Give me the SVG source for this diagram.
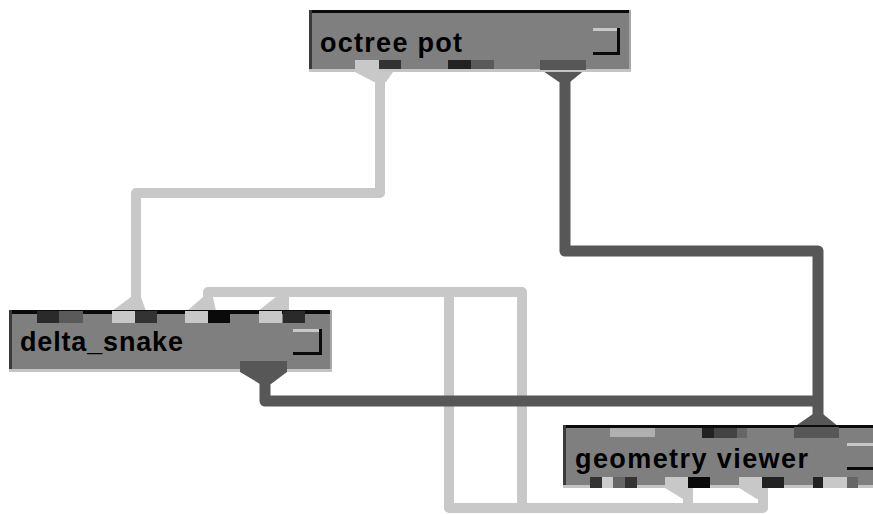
<svg xmlns="http://www.w3.org/2000/svg" width="873" height="514" viewBox="0 0 873 514">
<style>
.body{fill:#7f7f7f}
.topline{fill:#0a0a0a}
.leftline{fill:#3a3a3a}
.botline{fill:#c4c4c4}
.rightline{fill:#a8a8a8}
.lbl{font-family:"Liberation Sans",Arial,sans-serif;font-weight:bold;font-size:27px;fill:#000}
.lw{fill:none;stroke:#c8c8c8;stroke-width:10;stroke-linejoin:round}
.dw{fill:none;stroke:#575757;stroke-width:11;stroke-linejoin:round}
.lp{fill:#c8c8c8}
.dp{fill:#575757}
.btnface{fill:#7f7f7f}
.btnlight{fill:#c8c8c8}
.btndark{fill:#0a0a0a}
</style>
<rect width="873" height="514" fill="#ffffff"/>
<g id="connectors">
  <polyline class="lw" points="380,78 380,193 136,193 136,300"/>
  <polyline class="lw" points="208,300 208,292 522,292 522,508"/>
  <line class="lw" x1="283" y1="292" x2="283" y2="300"/>
  <polyline class="lw" points="449,292 449,508 763,508 763,496"/>
  <line class="lw" x1="688" y1="508" x2="688" y2="496"/>
  <polyline class="dw" points="565,78 565,251 818,251 818,418"/>
  <polyline class="dw" points="265,378 265,401 818,401"/>
  <!-- funnels -->
  <polygon class="lp" points="374,82 386,82 393,72 355,72"/>
  <polygon class="dp" points="559,82 570,82 586,69 540,69"/>
  <polygon class="lp" points="131,297 141,297 146,311 112,311"/>
  <polygon class="lp" points="203,297 213,297 216,311 187,311"/>
  <polygon class="lp" points="277,296 289,296 289,311 258,311"/>
  <polygon class="dp" points="260,384 271,384 287,372 240,372"/>
  <polygon class="dp" points="813,414 823,414 839,427 794,427"/>
  <polygon class="lp" points="683,499 693,499 693,488 665,488"/>
  <polygon class="lp" points="757,499 768,499 768,488 739,488"/>
</g>
<g id="node-octree-pot">
  <rect class="body" x="309" y="10" width="322" height="62"/>
  <rect class="topline" x="309" y="10" width="322" height="3"/>
  <rect class="leftline" x="309" y="10" width="3" height="62"/>
  <rect class="rightline" x="629" y="10" width="2" height="62"/>
  <rect class="botline" x="309" y="69" width="322" height="3"/>
  <rect class="lp" x="355" y="60" width="24" height="12"/>
  <rect fill="#333333" x="379" y="60" width="22" height="9"/>
  <rect fill="#222222" x="448" y="60" width="23" height="9"/>
  <rect fill="#5a5a5a" x="471" y="60" width="23" height="9"/>
  <rect class="dp" x="540" y="60" width="46" height="10"/>
  <rect class="btnlight" x="593" y="28" width="27" height="3"/>
  <rect class="btndark" x="617" y="28" width="3" height="27"/>
  <rect class="btndark" x="593" y="52" width="27" height="3"/>
  <text class="lbl" x="320" y="52" textLength="142">octree pot</text>
</g>
<g id="node-delta-snake">
  <rect class="body" x="9" y="310" width="323" height="62"/>
  <rect class="topline" x="9" y="310" width="323" height="4"/>
  <rect class="leftline" x="9" y="310" width="3" height="62"/>
  <rect class="rightline" x="330" y="310" width="2" height="62"/>
  <rect class="botline" x="9" y="369" width="323" height="3"/>
  <rect fill="#2a2a2a" x="37" y="311" width="22" height="12"/>
  <rect fill="#5a5a5a" x="59" y="311" width="24" height="12"/>
  <rect class="lp" x="112" y="311" width="23" height="12"/>
  <rect fill="#333333" x="135" y="311" width="22" height="12"/>
  <rect class="lp" x="185" y="311" width="23" height="12"/>
  <rect fill="#0a0a0a" x="208" y="311" width="22" height="12"/>
  <rect class="lp" x="259" y="311" width="23" height="12"/>
  <rect fill="#2a2a2a" x="283" y="311" width="22" height="12"/>
  <rect class="dp" x="240" y="361" width="47" height="11"/>
  <rect class="btnlight" x="293" y="329" width="29" height="3"/>
  <rect class="btndark" x="319" y="329" width="3" height="26"/>
  <rect class="btndark" x="293" y="352" width="29" height="3"/>
  <text class="lbl" x="20" y="351" textLength="163">delta_snake</text>
</g>
<g id="node-geometry-viewer">
  <rect class="body" x="563" y="425" width="322" height="63"/>
  <rect class="topline" x="563" y="425" width="322" height="3"/>
  <rect class="leftline" x="563" y="425" width="3" height="63"/>
  <rect class="botline" x="563" y="485" width="322" height="3"/>
  <rect fill="#b0b0b0" x="610" y="428" width="45" height="9"/>
  <rect fill="#222222" x="702" y="428" width="12" height="10"/>
  <rect fill="#444444" x="714" y="428" width="23" height="10"/>
  <rect fill="#666666" x="737" y="428" width="10" height="10"/>
  <rect class="dp" x="794" y="427" width="45" height="11"/>
  <rect fill="#333333" x="590" y="477" width="12" height="11"/>
  <rect fill="#cccccc" x="602" y="477" width="11" height="11"/>
  <rect fill="#666666" x="613" y="477" width="12" height="11"/>
  <rect fill="#333333" x="625" y="477" width="12" height="11"/>
  <rect class="lp" x="665" y="477" width="23" height="11"/>
  <rect fill="#0a0a0a" x="688" y="477" width="22" height="11"/>
  <rect class="lp" x="739" y="477" width="23" height="11"/>
  <rect fill="#222222" x="762" y="477" width="22" height="11"/>
  <rect fill="#222222" x="813" y="477" width="10" height="11"/>
  <rect class="lp" x="823" y="477" width="24" height="11"/>
  <rect fill="#666666" x="847" y="477" width="11" height="11"/>
  <rect class="btnlight" x="847" y="443" width="27" height="3"/>
  <rect class="btndark" x="847" y="467" width="27" height="3"/>
  <text class="lbl" x="575" y="468" textLength="233">geometry viewer</text>
</g>
</svg>
